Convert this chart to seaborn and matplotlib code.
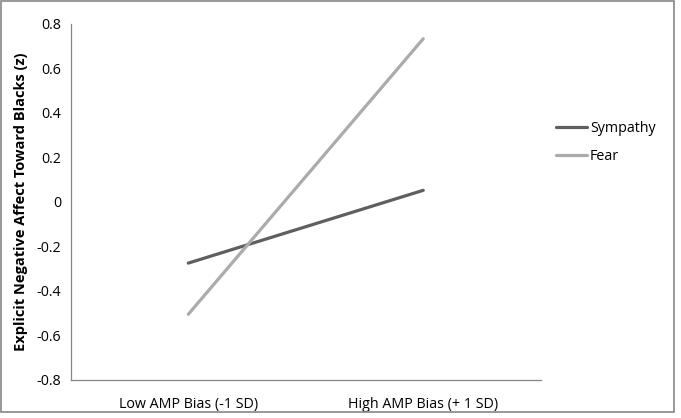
import numpy as np
import pandas as pd
import seaborn as sns
import matplotlib.pyplot as plt
from matplotlib.patches import Rectangle
from matplotlib.lines import Line2D

conditions = ['Low AMP Bias (-1 SD)', 'High AMP Bias (+ 1 SD)']
sympathy = [-0.275, 0.052]
fear = [-0.505, 0.733]

df = pd.DataFrame({
    'x': [0, 1, 0, 1],
    'value': sympathy + fear,
    'Emotion': ['Sympathy'] * 2 + ['Fear'] * 2,
})

sns.set_style('white')
plt.rcParams['font.family'] = ['Open Sans', 'DejaVu Sans']
plt.rcParams['text.color'] = 'black'

fig = plt.figure(figsize=(6.81, 4.18), dpi=100)
ax = fig.add_axes([0.104, 0.091, 0.69, 0.852])

sns.lineplot(data=df, x='x', y='value', hue='Emotion',
             palette={'Sympathy': '#5f5f5f', 'Fear': '#ababab'},
             linewidth=2.3, ax=ax, legend=False)

ax.set_xlim(-0.5, 1.5)
ax.set_ylim(-0.8, 0.8)
ax.set_yticks(np.arange(-0.8, 0.81, 0.2))
ax.set_yticklabels(['-0.8', '-0.6', '-0.4', '-0.2', '0', '0.2', '0.4', '0.6', '0.8'])
ax.set_xticks([-0.5, 0.5, 1.5])
ax.set_xticklabels([])
ax.set_xticks([0, 1], minor=True)
ax.set_xticklabels(conditions, minor=True)
ax.tick_params(axis='x', which='minor', length=0, pad=12, labelsize=10.3, labelcolor='black')
ax.tick_params(axis='x', which='major', length=5, color='#868686', direction='out')
ax.tick_params(axis='y', length=5, color='#868686', direction='out', labelsize=10.3,
               labelcolor='black', pad=2)

for s in ['top', 'right']:
    ax.spines[s].set_visible(False)
for s in ['left', 'bottom']:
    ax.spines[s].set_color('#868686')
    ax.spines[s].set_linewidth(0.9)

ax.set_xlabel('')
ax.set_ylabel('Explicit Negative Affect Toward Blacks (z)', fontsize=10.5,
              fontweight='bold', labelpad=6, color='black')

# legend placed at right like Excel
handles = [Line2D([], [], color='#5f5f5f', lw=2.3),
           Line2D([], [], color='#ababab', lw=2.3)]
fig.legend(handles, ['Sympathy', 'Fear'], loc='center left',
           bbox_to_anchor=(0.797, 0.66), frameon=False, fontsize=10.3,
           handlelength=2.2, handletextpad=0.2, labelspacing=0.9)

fig.patches.append(Rectangle((0.002, 0.015), 0.988, 0.982, transform=fig.transFigure,
                             fill=False, edgecolor='#868686', linewidth=1.2))

fig.savefig('out.png', dpi=100)
